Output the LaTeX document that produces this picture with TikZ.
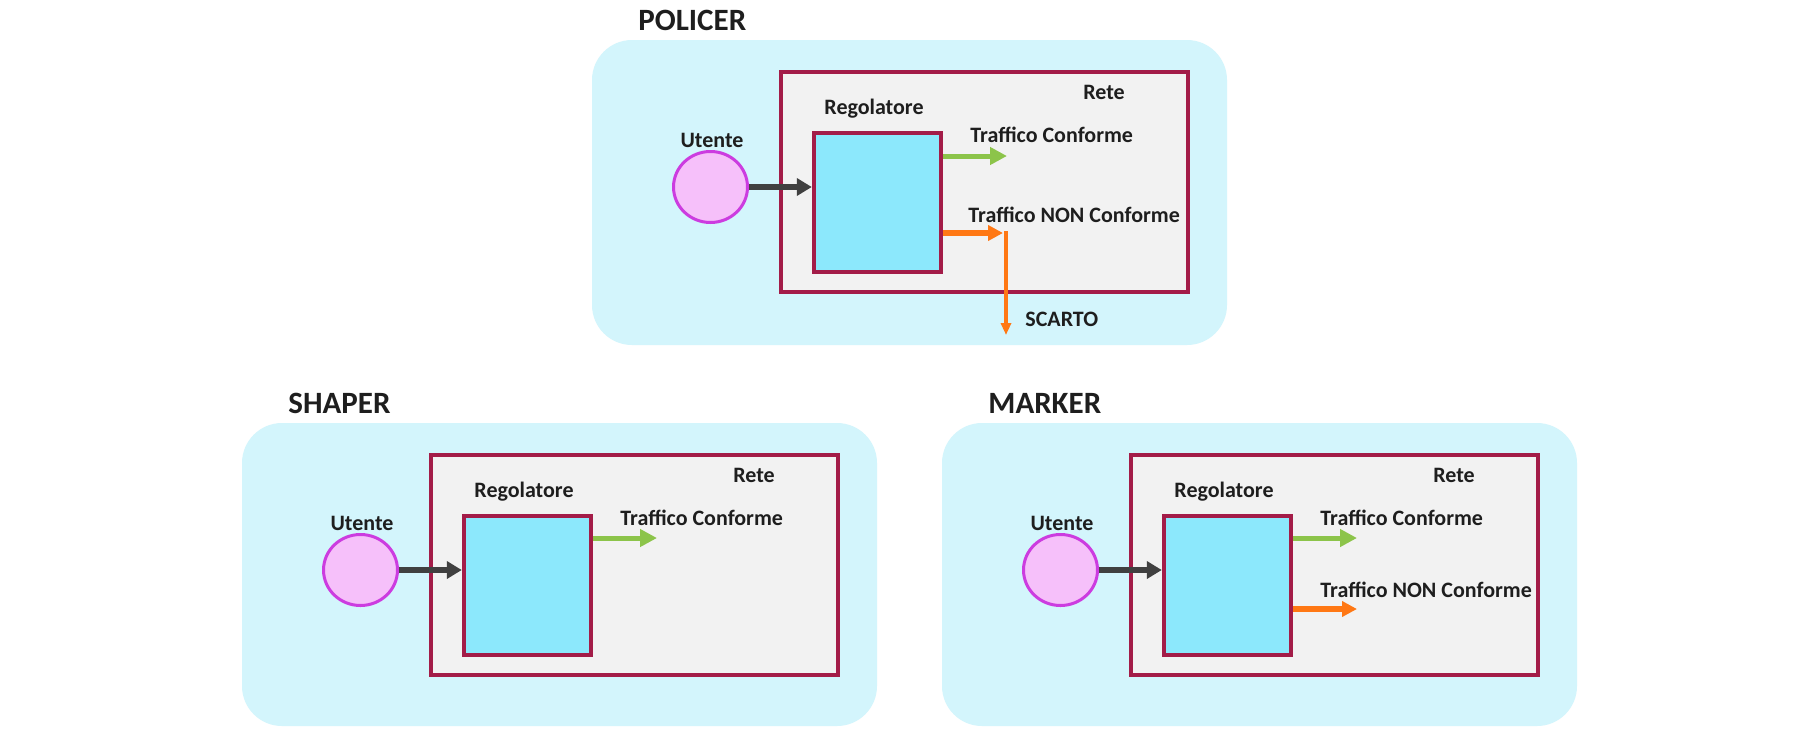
\documentclass[tikz,border=0pt]{standalone}
\usepackage{fontspec}
\setmainfont{Carlito}
\usetikzlibrary{arrows.meta,shapes.geometric,fit}
\definecolor{panelblue}{RGB}{211,245,252}
\definecolor{retegray}{RGB}{242,242,242}
\definecolor{maroon}{RGB}{163,28,72}
\definecolor{regblue}{RGB}{140,232,252}
\definecolor{userpink}{RGB}{246,192,250}
\definecolor{uservio}{RGB}{204,60,224}
\definecolor{okgreen}{RGB}{140,196,74}
\definecolor{koorange}{RGB}{255,120,20}
\definecolor{darkarr}{RGB}{64,64,64}
\definecolor{txt}{RGB}{30,30,30}
\begin{document}
\begin{tikzpicture}[x=0.5pt,y=-0.5pt,
  panelbox/.style={fill=panelblue,draw=none,rounded corners=20pt,inner sep=0pt},
  retebox/.style={fill=retegray,draw=maroon,line width=2.2pt,inner sep=0pt},
  regbox/.style={fill=regblue,draw=maroon,line width=2.2pt,inner sep=0pt},
  userball/.style={ellipse,fill=userpink,draw=uservio,line width=1.5pt,minimum width=37pt,minimum height=35.5pt,inner sep=0pt},
  titletext/.style={font=\fontsize{15.5}{18}\selectfont\bfseries,text=txt,inner sep=0pt,anchor=west},
  lbl/.style={font=\fontsize{11}{13}\selectfont\bfseries,text=txt,inner sep=0pt},
  inarrow/.style={draw=darkarr,line width=3pt,-{Triangle[length=7.5pt,width=8.5pt]}},
  okarrow/.style={draw=okgreen,line width=2.5pt,-{Triangle[length=8.5pt,width=8.5pt]}},
  koarrow/.style={draw=koorange,line width=3pt,-{Triangle[length=7.5pt,width=7.5pt]}},
  dropline/.style={draw=koorange,line width=2pt,-{Triangle[length=6pt,width=5pt]}}]
\fill[white] (0,0) rectangle (1815,740);
\useasboundingbox (0,0) rectangle (1815,740);

% ---------------- POLICER ----------------
\begin{scope}[shift={(350,-383)}]
  \node[titletext] (p-title) at (288,403) {POLICER};
  \node[panelbox,fit={(242,423)(877,728)}] (p-panel) {};
  \node[retebox,fit={(431,455)(838,675)}] (p-rete) {};
  \node[regbox,fit={(464,516)(591,655)}] (p-reg) {};
  \node[userball] (p-utente) at (360.5,570) {};
  \node[lbl] (p-ulbl) at (362,523) {Utente};
  \node[lbl] (p-reglbl) at (524,492) {Regolatore};
  \node[lbl] (p-retelbl) at (754,475) {Rete};
  \node[lbl,anchor=west] (p-tc) at (620,518) {Traffico Conforme};
  \node[lbl,anchor=west] (p-tnc) at (618,598) {Traffico NON Conforme};
  \node[lbl,anchor=west] (p-scarto) at (675,702) {SCARTO};
  \coordinate (p-g) at (657,539);
  \coordinate (p-o) at (653,616);
  \coordinate (p-d1) at (656,614);
  \coordinate (p-d2) at (656,718);
  \draw[inarrow] (p-utente.east) -- (p-utente.east -| p-reg.west);
  \draw[okarrow] (p-g -| p-reg.east) -- (p-g);
  \draw[dropline] (p-d1) -- (p-d2);
  \draw[koarrow] (p-o -| p-reg.east) -- (p-o);
\end{scope}

% ---------------- SHAPER ----------------
\begin{scope}
  \node[titletext] (s-title) at (288,403) {SHAPER};
  \node[panelbox,fit={(242,423)(877,726)}] (s-panel) {};
  \node[retebox,fit={(431,455)(838,675)}] (s-rete) {};
  \node[regbox,fit={(464,516)(591,655)}] (s-reg) {};
  \node[userball] (s-utente) at (360.5,570) {};
  \node[lbl] (s-ulbl) at (362,523) {Utente};
  \node[lbl] (s-reglbl) at (524,492) {Regolatore};
  \node[lbl] (s-retelbl) at (754,475) {Rete};
  \node[lbl,anchor=west] (s-tc) at (620,518) {Traffico Conforme};
  \coordinate (s-g) at (657,538);
  \draw[inarrow] (s-utente.east) -- (s-utente.east -| s-reg.west);
  \draw[okarrow] (s-g -| s-reg.east) -- (s-g);
\end{scope}

% ---------------- MARKER ----------------
\begin{scope}[shift={(700,0)}]
  \node[titletext] (m-title) at (288,403) {MARKER};
  \node[panelbox,fit={(242,423)(877,726)}] (m-panel) {};
  \node[retebox,fit={(431,455)(838,675)}] (m-rete) {};
  \node[regbox,fit={(464,516)(591,655)}] (m-reg) {};
  \node[userball] (m-utente) at (360.5,570) {};
  \node[lbl] (m-ulbl) at (362,523) {Utente};
  \node[lbl] (m-reglbl) at (524,492) {Regolatore};
  \node[lbl] (m-retelbl) at (754,475) {Rete};
  \node[lbl,anchor=west] (m-tc) at (620,518) {Traffico Conforme};
  \node[lbl,anchor=west] (m-tnc) at (620,590) {Traffico NON Conforme};
  \coordinate (m-g) at (657,538);
  \coordinate (m-o) at (657,609);
  \draw[inarrow] (m-utente.east) -- (m-utente.east -| m-reg.west);
  \draw[okarrow] (m-g -| m-reg.east) -- (m-g);
  \draw[koarrow] (m-o -| m-reg.east) -- (m-o);
\end{scope}
\end{tikzpicture}
\end{document}
